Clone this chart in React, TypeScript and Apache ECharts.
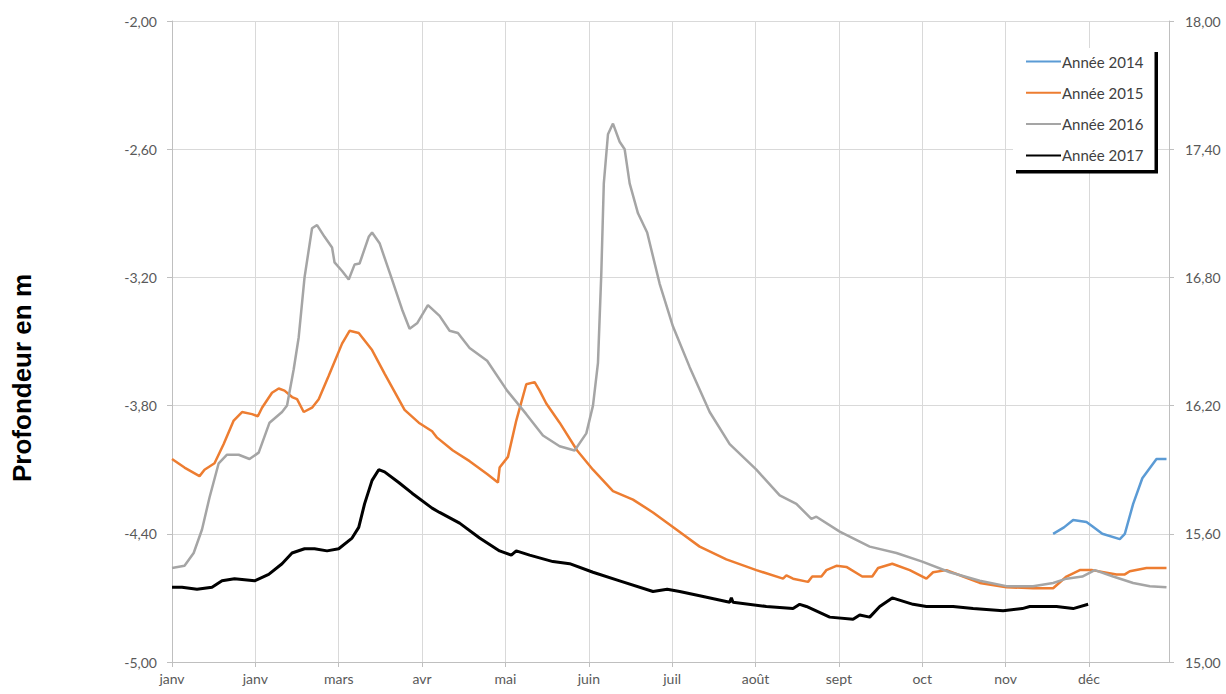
import React, { useEffect, useRef } from "react";
import * as echarts from "echarts";

const monthLabels = ["janv", "janv", "mars", "avr", "mai", "juin", "juil", "août", "sept", "oct", "nov", "déc"];
const leftTicks = { min: -5, max: -2, interval: 0.6 };
const rightTicks = { min: 15, max: 18, interval: 0.6 };
const seriesNames = ["Année 2014", "Année 2015", "Année 2016", "Année 2017"];

// [month position, depth in m]
const annee2014: [number, number][] = [
  [10.57, -4.40], [10.70, -4.37], [10.81, -4.335], [10.97, -4.345], [11.04, -4.365], [11.16, -4.40],
  [11.37, -4.425], [11.43, -4.40], [11.53, -4.26], [11.64, -4.14], [11.81, -4.05], [11.85, -4.05], [11.93, -4.05],
];

const annee2015: [number, number][] = [
  [0.00, -4.05], [0.15, -4.09], [0.33, -4.13], [0.39, -4.10], [0.51, -4.07], [0.62, -3.98], [0.74, -3.87],
  [0.84, -3.83], [0.96, -3.84], [1.03, -3.85], [1.08, -3.81], [1.20, -3.74], [1.28, -3.72], [1.35, -3.73],
  [1.44, -3.76], [1.50, -3.77], [1.58, -3.83], [1.68, -3.81], [1.76, -3.77], [1.88, -3.66], [2.04, -3.51],
  [2.13, -3.45], [2.24, -3.46], [2.40, -3.54], [2.55, -3.65], [2.79, -3.82], [2.96, -3.88], [3.12, -3.92],
  [3.18, -3.95], [3.37, -4.01], [3.57, -4.06], [3.78, -4.12], [3.91, -4.16], [3.93, -4.09], [4.03, -4.04],
  [4.13, -3.87], [4.25, -3.70], [4.35, -3.69], [4.41, -3.73], [4.49, -3.79], [4.65, -3.88], [4.86, -4.01],
  [5.05, -4.10], [5.29, -4.20], [5.53, -4.24], [5.77, -4.30], [6.05, -4.38], [6.33, -4.46], [6.65, -4.52],
  [7.01, -4.57], [7.33, -4.61], [7.37, -4.595], [7.45, -4.61], [7.63, -4.625], [7.68, -4.60], [7.79, -4.60],
  [7.85, -4.57], [7.97, -4.55], [8.09, -4.555], [8.28, -4.60], [8.40, -4.60], [8.47, -4.56], [8.64, -4.54],
  [8.85, -4.57], [9.05, -4.61], [9.13, -4.58], [9.29, -4.57], [9.49, -4.60], [9.69, -4.63], [10.01, -4.65],
  [10.33, -4.655], [10.57, -4.655], [10.73, -4.60], [10.89, -4.57], [11.04, -4.57], [11.33, -4.59],
  [11.43, -4.59], [11.49, -4.575], [11.69, -4.56], [11.93, -4.56],
];

const annee2016: [number, number][] = [
  [0.00, -4.56], [0.15, -4.55], [0.26, -4.49], [0.36, -4.38], [0.45, -4.23], [0.56, -4.07], [0.66, -4.03],
  [0.80, -4.03], [0.93, -4.05], [1.04, -4.02], [1.17, -3.88], [1.32, -3.83], [1.38, -3.80], [1.46, -3.63],
  [1.52, -3.48], [1.59, -3.20], [1.68, -2.97], [1.74, -2.955], [1.83, -3.01], [1.92, -3.06], [1.95, -3.13],
  [2.04, -3.17], [2.12, -3.21], [2.19, -3.14], [2.25, -3.135], [2.36, -3.01], [2.40, -2.99], [2.49, -3.04],
  [2.64, -3.21], [2.76, -3.35], [2.85, -3.44], [2.94, -3.415], [3.07, -3.33], [3.21, -3.38], [3.33, -3.45],
  [3.43, -3.46], [3.57, -3.53], [3.78, -3.59], [4.02, -3.73], [4.25, -3.84], [4.45, -3.94], [4.65, -3.99],
  [4.83, -4.01], [4.97, -3.93], [5.05, -3.80], [5.11, -3.60], [5.15, -3.18], [5.18, -2.76], [5.23, -2.53],
  [5.29, -2.48], [5.37, -2.565], [5.43, -2.60], [5.49, -2.76], [5.59, -2.90], [5.70, -2.99], [5.85, -3.23],
  [6.01, -3.43], [6.21, -3.62], [6.45, -3.83], [6.69, -3.98], [7.01, -4.10], [7.29, -4.22], [7.49, -4.26],
  [7.67, -4.33], [7.73, -4.32], [8.01, -4.39], [8.37, -4.46], [8.69, -4.49], [9.00, -4.53], [9.33, -4.58],
  [9.69, -4.62], [10.01, -4.645], [10.33, -4.645], [10.57, -4.63], [10.73, -4.61], [10.92, -4.60],
  [11.07, -4.57], [11.29, -4.60], [11.53, -4.63], [11.73, -4.645], [11.93, -4.65],
];

const annee2017: [number, number][] = [
  [0.00, -4.65], [0.12, -4.65], [0.30, -4.66], [0.48, -4.65], [0.60, -4.62], [0.75, -4.61], [0.99, -4.62],
  [1.16, -4.59], [1.32, -4.54], [1.44, -4.49], [1.59, -4.47], [1.71, -4.47], [1.86, -4.48], [2.00, -4.47],
  [2.16, -4.42], [2.24, -4.37], [2.31, -4.26], [2.40, -4.15], [2.48, -4.10], [2.55, -4.11], [2.72, -4.16],
  [2.88, -4.21], [3.12, -4.28], [3.21, -4.30], [3.45, -4.35], [3.69, -4.42], [3.93, -4.48], [4.07, -4.50],
  [4.13, -4.48], [4.29, -4.50], [4.57, -4.53], [4.77, -4.54], [5.05, -4.58], [5.37, -4.62], [5.77, -4.67],
  [5.94, -4.66], [6.09, -4.67], [6.33, -4.69], [6.69, -4.72], [6.71, -4.70], [6.73, -4.72], [7.13, -4.74],
  [7.45, -4.75], [7.53, -4.73], [7.61, -4.74], [7.89, -4.79], [8.17, -4.80], [8.25, -4.78], [8.37, -4.79],
  [8.49, -4.74], [8.64, -4.70], [8.89, -4.73], [9.05, -4.74], [9.37, -4.74], [9.61, -4.75], [9.97, -4.76],
  [10.20, -4.75], [10.29, -4.74], [10.61, -4.74], [10.81, -4.75], [10.99, -4.73],
];

const FONT = "Lato, 'Open Sans', sans-serif";
const fmt = (v: number) => v.toFixed(2).replace(".", ",");

export default function App() {
  const ref = useRef<HTMLDivElement>(null);

  useEffect(() => {
    document.body.style.margin = "0";
    const chart = echarts.init(ref.current!, null, { renderer: "svg" });
    const axisLineStyle = { color: "#bfbfbf", width: 1 };
    const labelStyle = { color: "#595959", fontSize: 14, fontFamily: FONT };

    chart.setOption({
      animation: false,
      backgroundColor: "#ffffff",
      grid: { left: 172, right: 57, top: 21, bottom: 32, containLabel: false },
      xAxis: {
        type: "value",
        min: 0,
        max: 11.96,
        interval: 1,
        axisLine: { show: true, lineStyle: axisLineStyle },
        axisTick: { show: true, length: 5, lineStyle: axisLineStyle },
        splitLine: { show: true, lineStyle: { color: "#d9d9d9", width: 1 } },
        axisLabel: {
          ...labelStyle,
          margin: 9,
          showMaxLabel: false,
          formatter: (v: number) => {
            const i = Math.round(v);
            return Math.abs(v - i) < 0.01 && i < monthLabels.length ? monthLabels[i] : "";
          },
        },
      },
      yAxis: [
        {
          type: "value",
          ...leftTicks,
          position: "left",
          axisLine: { show: true, lineStyle: axisLineStyle },
          axisTick: { show: true, length: 5, lineStyle: axisLineStyle },
          splitLine: { show: true, lineStyle: { color: "#d9d9d9", width: 1 } },
          axisLabel: { ...labelStyle, margin: 15, formatter: (v: number) => fmt(v) },
        },
        {
          type: "value",
          ...rightTicks,
          position: "right",
          axisLine: { show: true, lineStyle: axisLineStyle },
          axisTick: { show: true, length: 5, lineStyle: axisLineStyle },
          splitLine: { show: false },
          axisLabel: { ...labelStyle, margin: 16, formatter: (v: number) => fmt(v) },
        },
      ],
      legend: {
        data: seriesNames,
        orient: "vertical",
        left: 1020,
        top: 49,
        itemWidth: 35,
        itemHeight: 14,
        itemGap: 16.3,
        z: 20,
        itemStyle: { opacity: 0 },
        textStyle: { color: "#404040", fontSize: 15, fontFamily: FONT, padding: [0, 0, 0, -4] },
      },
      graphic: [
        {
          type: "rect",
          z: 10,
          shape: { x: 1016, y: 52, width: 142, height: 121.5 },
          style: { fill: "#000000" },
        },
        {
          type: "rect",
          z: 11,
          shape: { x: 1013, y: 48, width: 141.5, height: 122 },
          style: { fill: "#ffffff" },
        },
        {
          type: "text",
          z: 12,
          x: 22,
          y: 378,
          rotation: Math.PI / 2,
          style: {
            text: "Profondeur en m",
            fill: "#000000",
            font: "bold 26px 'Liberation Sans', Arial, sans-serif",
            textAlign: "center",
            textVerticalAlign: "middle",
          },
        },
      ],
      series: [
        {
          name: seriesNames[0],
          type: "line",
          data: annee2014,
          symbol: "none",
          lineStyle: { color: "#5B9BD5", width: 2.5 },
          itemStyle: { color: "#5B9BD5" },
        },
        {
          name: seriesNames[1],
          type: "line",
          data: annee2015,
          symbol: "none",
          lineStyle: { color: "#ED7D31", width: 2.5 },
          itemStyle: { color: "#ED7D31" },
        },
        {
          name: seriesNames[2],
          type: "line",
          data: annee2016,
          symbol: "none",
          lineStyle: { color: "#A5A5A5", width: 2.5 },
          itemStyle: { color: "#A5A5A5" },
        },
        {
          name: seriesNames[3],
          type: "line",
          data: annee2017,
          symbol: "none",
          lineStyle: { color: "#000000", width: 3 },
          itemStyle: { color: "#000000" },
        },
      ],
    });

    return () => {
      chart.dispose();
    };
  }, []);

  return (
    <div
      ref={ref}
      style={{ position: "absolute", left: 0, top: 0, width: 1226, height: 694 }}
    />
  );
}
